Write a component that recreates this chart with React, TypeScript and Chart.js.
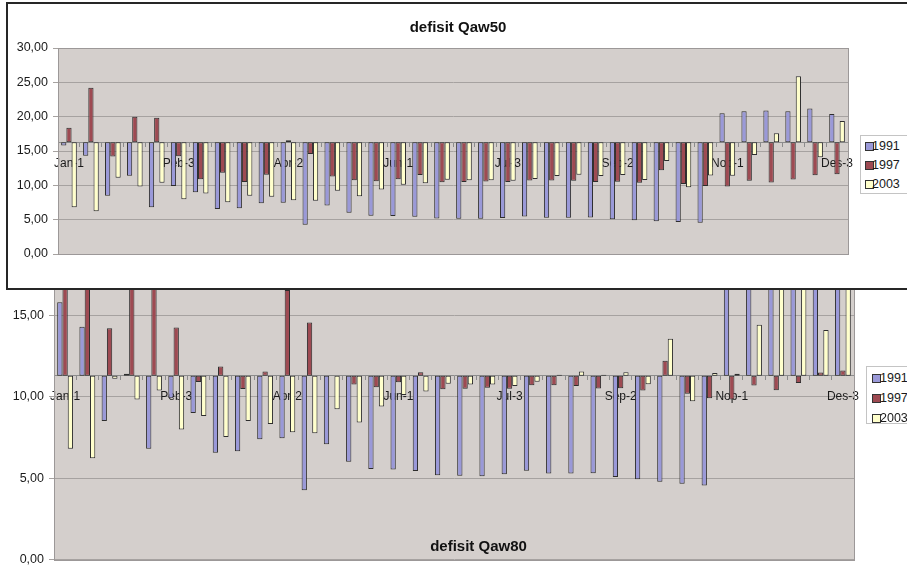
import React, { useEffect, useRef } from 'react';
import { Chart, registerables } from 'chart.js';

Chart.register(...registerables);

const categories = [
  'Jan-1', 'Jan-2', 'Jan-3', 'Peb-1', 'Peb-2', 'Peb-3',
  'Mar-1', 'Mar-2', 'Mar-3', 'Apr-1', 'Apr-2', 'Apr-3',
  'Mei-1', 'Mei-2', 'Mei-3', 'Jun-1', 'Jun-2', 'Jun-3',
  'Jul-1', 'Jul-2', 'Jul-3', 'Agt-1', 'Agt-2', 'Agt-3',
  'Sep-1', 'Sep-2', 'Sep-3', 'Okt-1', 'Okt-2', 'Okt-3',
  'Nop-1', 'Nop-2', 'Nop-3', 'Des-1', 'Des-2', 'Des-3',
];

const values1991 = [
  15.8, 14.3, 8.5, 11.4, 6.8, 9.9,
  9.0, 6.55, 6.65, 7.38, 7.45, 4.25,
  7.08, 6.0, 5.56, 5.53, 5.43, 5.17,
  5.15, 5.12, 5.24, 5.45, 5.28, 5.28,
  5.3, 5.07, 4.93, 4.77, 4.65, 4.54,
  20.5, 20.8, 20.9, 20.8, 21.2, 20.4,
];

const values1997 = [
  18.4, 24.2, 14.2, 20.0, 19.85, 14.25,
  10.9, 11.85, 10.47, 11.55, 16.55, 14.55,
  11.3, 10.75, 10.58, 10.88, 11.5, 10.45,
  10.48, 10.55, 10.48, 10.7, 10.7, 10.65,
  10.5, 10.52, 10.38, 12.2, 10.18, 9.9,
  9.82, 10.68, 10.4, 10.84, 11.48, 11.6,
];

const values2003 = [
  6.8, 6.22, 11.1, 9.82, 10.38, 7.98,
  8.82, 7.52, 8.5, 8.32, 7.82, 7.75,
  9.22, 8.42, 9.4, 10.1, 10.32, 10.8,
  10.74, 10.74, 10.65, 10.92, 11.35, 11.55,
  11.35, 11.5, 10.76, 13.56, 9.72, 11.45,
  11.4, 14.42, 17.57, 25.9, 14.1, 19.37,
];

const seriesNames = ['1991', '1997', '2003'];
const seriesColors = ['#9a99d8', '#9e4a52', '#ffffcc'];
const seriesValues = [values1991, values1997, values2003];

// axis crossing values (Qaw thresholds)
const qaw50 = 16.26;
const qaw80 = 11.28;

const yMin = 0;
const yMax = 30;
const yStep = 5;
const labelEvery = 5;

const FONT = '"Liberation Sans", Arial, Helvetica, sans-serif';

const plotArea = {
  id: 'plotArea',
  beforeDraw(chart: any) {
    const { ctx, chartArea: a } = chart;
    ctx.save();
    ctx.fillStyle = '#d4cfcc';
    ctx.fillRect(a.left, a.top, a.width, a.height);
    ctx.restore();
  },
  beforeDatasetsDraw(chart: any) {
    const { ctx, chartArea: a } = chart;
    ctx.save();
    ctx.strokeStyle = '#9c9898';
    ctx.lineWidth = 1;
    ctx.strokeRect(Math.round(a.left) + 0.5, Math.round(a.top) + 0.5, Math.round(a.width), Math.round(a.height));
    ctx.restore();
  },
};

type BarProps = {
  base: number;
  width: number;
  height: number;
  padding: { top: number; bottom: number; left: number; right: number };
  yWidth: number;
};

function BarChart({ base, width, height, padding, yWidth }: BarProps) {
  const ref = useRef<HTMLCanvasElement>(null);
  useEffect(() => {
    if (!ref.current) return;
    const chart = new Chart(ref.current, {
      type: 'bar',
      data: {
        labels: categories,
        datasets: seriesNames.map((name, k) => ({
          label: name,
          data: seriesValues[k].map((v) => [base, v]) as any,
          backgroundColor: seriesColors[k],
          borderColor: '#2d2d2d',
          borderWidth: 1,
          borderSkipped: false,
          categoryPercentage: 0.714,
          barPercentage: 1,
        })),
      },
      options: {
        responsive: false,
        animation: false,
        events: [],
        layout: { padding },
        plugins: {
          legend: { display: false },
          title: { display: false },
          tooltip: { enabled: false },
        },
        scales: {
          x: {
            position: { y: base } as any,
            z: 1,
            grid: {
              display: true,
              drawOnChartArea: false,
              drawTicks: true,
              tickLength: 4,
              color: '#8c8c8c',
              offset: true,
            },
            border: { display: true, color: '#8c8c8c' },
            ticks: {
              autoSkip: false,
              maxRotation: 0,
              minRotation: 0,
              padding: 10,
              color: '#1a1a1a',
              font: { family: FONT, size: 12 },
              callback: (_v: any, i: number) => (i % labelEvery === 0 ? categories[i] : ''),
            },
          },
          y: {
            min: yMin,
            max: yMax,
            afterFit: (s: any) => {
              s.width = yWidth;
            },
            grid: {
              color: '#a6a2a0',
              drawTicks: true,
              tickLength: 5,
            },
            border: { display: true, color: '#8c8c8c' },
            ticks: {
              stepSize: yStep,
              padding: 5,
              color: '#1a1a1a',
              font: { family: FONT, size: 12.5 },
              callback: (v: any) => Number(v).toFixed(2).replace('.', ','),
            },
          },
        },
      },
      plugins: [plotArea],
    });
    return () => chart.destroy();
  }, []);
  return <canvas ref={ref} width={width} height={height} style={{ display: 'block', width, height }} />;
}

type LegendProps = { left: number; top: number; height: number; rowTop: number; rowH: number; sqLeft: number; textLeft: number };

function Legend({ left, top, height, rowTop, rowH, sqLeft, textLeft }: LegendProps) {
  return (
    <div
      style={{
        position: 'absolute',
        left,
        top,
        width: 80,
        height,
        boxSizing: 'border-box',
        border: '1px solid #c4c4c4',
        background: '#ffffff',
      }}
    >
      {seriesNames.map((name, k) => (
        <div key={name} style={{ position: 'absolute', left: 0, top: rowTop + k * rowH - 8, height: 16, width: 80 }}>
          <div
            style={{
              position: 'absolute',
              left: sqLeft,
              top: 4,
              width: 7,
              height: 7,
              background: seriesColors[k],
              border: '1px solid #333',
            }}
          />
          <div
            style={{
              position: 'absolute',
              left: textLeft,
              top: 0,
              lineHeight: '16px',
              fontFamily: FONT,
              fontSize: 12.5,
              color: '#1a1a1a',
            }}
          >
            {name}
          </div>
        </div>
      ))}
    </div>
  );
}

export default function App() {
  return (
    <div
      style={{
        position: 'fixed',
        left: 0,
        top: 0,
        width: 907,
        height: 572,
        overflow: 'hidden',
        background: '#ffffff',
      }}
    >
      {/* lower chart: defisit Qaw80 */}
      <div style={{ position: 'absolute', left: 0, top: 0 }}>
        <BarChart base={qaw80} width={907} height={572} padding={{ top: 71, bottom: 9, left: 0, right: 53 }} yWidth={54} />
      </div>
      <div
        style={{
          position: 'absolute',
          left: 0,
          width: 957,
          top: 538,
          textAlign: 'center',
          fontFamily: FONT,
          fontWeight: 'bold',
          fontSize: 15,
          lineHeight: '16px',
          color: '#111',
        }}
      >
        defisit Qaw80
      </div>
      <Legend left={866} top={366} height={58} rowTop={11} rowH={20} sqLeft={5} textLeft={13} />

      {/* upper chart: defisit Qaw50 */}
      <div
        style={{
          position: 'absolute',
          left: 6,
          top: 2,
          width: 920,
          height: 288,
          boxSizing: 'border-box',
          border: '2px solid #262626',
          background: '#ffffff',
        }}
      >
        <BarChart base={qaw50} width={916} height={284} padding={{ top: 44, bottom: 34, left: 0, right: 76 }} yWidth={50} />
        <div
          style={{
            position: 'absolute',
            left: -8,
            width: 916,
            top: 15,
            textAlign: 'center',
            fontFamily: FONT,
            fontWeight: 'bold',
            fontSize: 15,
            lineHeight: '16px',
            color: '#111',
          }}
        >
          defisit Qaw50
        </div>
        <div style={{ position: 'absolute', left: 0, top: 0 }}>
          <Legend left={852} top={131} height={59} rowTop={10} rowH={19} sqLeft={4} textLeft={11} />
        </div>
      </div>
    </div>
  );
}
